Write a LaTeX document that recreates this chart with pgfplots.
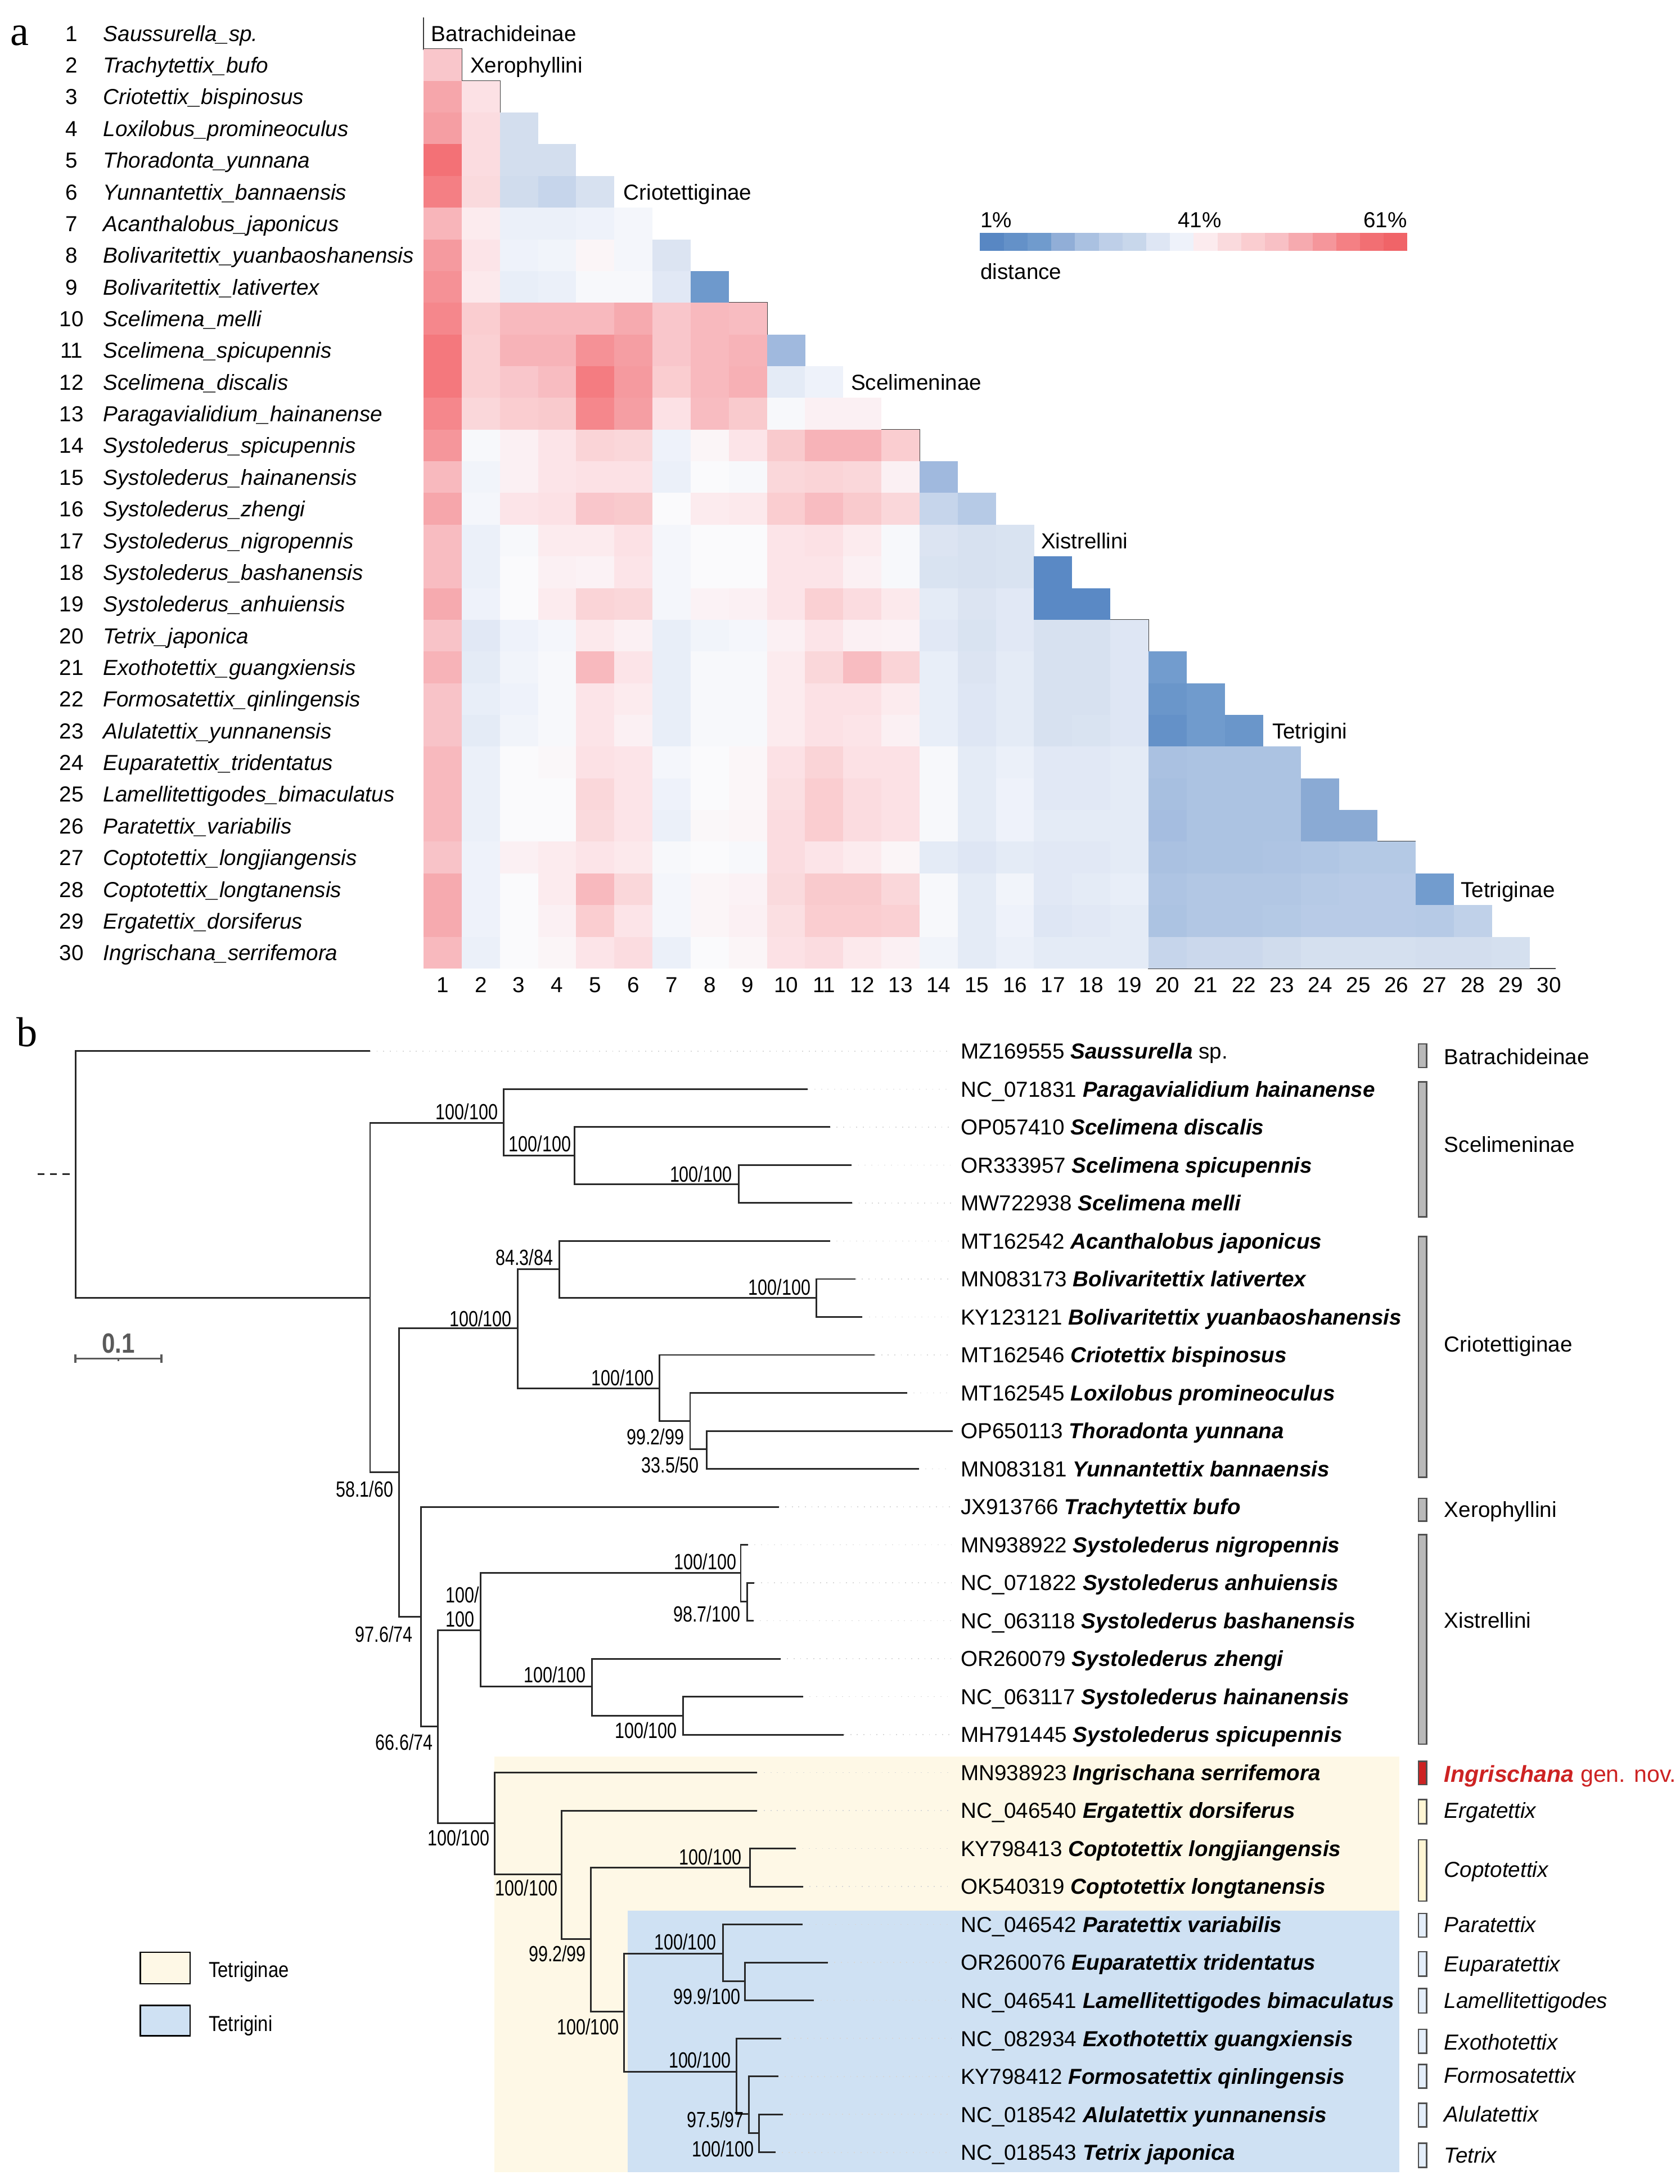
\documentclass[border=0pt]{standalone}
\usepackage{fontspec}
\setmainfont{Liberation Sans}
\newfontfamily\serifletter{Liberation Serif}
\usepackage{graphicx}
\usepackage{pgfplots}
\pgfplotsset{compat=1.18}

\definecolor{beige}{RGB}{254,248,230}
\definecolor{tblue}{RGB}{207,225,243}
\definecolor{linecol}{RGB}{40,40,40}
\definecolor{outl}{RGB}{60,60,60}
\definecolor{boxgray}{RGB}{185,185,185}
\definecolor{bardraw}{RGB}{80,80,80}
\definecolor{ingred}{RGB}{205,35,35}
\definecolor{yelbar}{RGB}{255,246,212}
\definecolor{bluebar}{RGB}{228,238,250}
\definecolor{leader}{RGB}{215,215,215}
\definecolor{scalegray}{RGB}{90,90,90}

\newcommand{\fs}{\fontsize{7.8}{9.4}\selectfont}
\newcommand{\bsf}{\fontsize{7.9}{9.4}\selectfont}
\newcommand{\nar}[1]{\scalebox{0.78}[1]{#1}}

% distance colour scale: blue (1%) - white (41%) - red (61%)
\pgfplotsset{colormap={dist}{rgb255(1cm)=(86,133,194) rgb255(2cm)=(90,137,197)
  rgb255(7.5cm)=(100,145,200) rgb255(10.5cm)=(112,155,205) rgb255(17cm)=(138,170,212)
  rgb255(22cm)=(160,185,222) rgb255(24.5cm)=(172,195,226) rgb255(27cm)=(182,202,230)
  rgb255(31cm)=(198,213,235) rgb255(33cm)=(208,220,237) rgb255(35cm)=(215,225,240)
  rgb255(37cm)=(225,232,245) rgb255(38cm)=(232,238,248) rgb255(39cm)=(238,242,250)
  rgb255(41cm)=(250,250,252) rgb255(42.5cm)=(252,235,238) rgb255(44cm)=(252,228,232)
  rgb255(46.5cm)=(250,215,218) rgb255(48cm)=(250,205,208) rgb255(49.5cm)=(248,195,200)
  rgb255(51cm)=(248,185,190) rgb255(53.5cm)=(246,170,175) rgb255(56cm)=(245,150,155)
  rgb255(57.5cm)=(245,135,140) rgb255(59.5cm)=(244,120,125) rgb255(61cm)=(240,100,104)}}

\tikzset{
  lab/.style={inner sep=0pt, text height=5.6pt, text depth=0pt, font=\fs},
  bsl/.style={inner sep=0pt, text height=5.7pt, text depth=0pt, font=\bsf, anchor=east},
}

\newcommand{\rowlab}[3]{\node[lab,anchor=center] at (axis cs:-8.726,#1) {#2};
  \node[lab,anchor=west] at (axis cs:-7.905,#1) {\textit{#3}};}
\newcommand{\tip}[3]{\node[lab,anchor=west] at (axis cs:1.0295,#1) {#2 \textbf{\textit{#3}}};}
\newcommand{\grp}[2]{\node[lab,anchor=west] at (axis cs:1.5922,#1) {#2};}
\newcommand{\boot}[3]{\node[bsl] at (axis cs:#1,#2) {\nar{#3}};}
\newcommand{\gbar}[3]{\addplot[fill=#3, draw=bardraw, line width=0.5pt] coordinates
  {(1.5629,#1) (1.5723,#1) (1.5723,#2) (1.5629,#2)} --cycle;}

\begin{document}
\begin{tikzpicture}
\useasboundingbox (0,0) rectangle (603pt,784pt);

% ---------------- panel a: distance heat map ----------------
\begin{axis}[
  at={(152.05pt,436.3pt)}, anchor=south west,
  scale only axis, width=410.9pt, height=341.4pt,
  xmin=0.5, xmax=30.5, ymin=0.5, ymax=30.5, y dir=reverse,
  axis x line*=bottom, axis y line=none,
  x axis line style={draw=none},
  xtick={1,...,30}, ytick=\empty, major tick length=0pt,
  /pgf/number format/assume math mode=true,
  xticklabel style={font=\fs, inner sep=0pt, yshift=-3pt},
  clip=false,
  colormap name=dist, point meta min=1, point meta max=61,
]
\addplot[scatter, only marks, mark=square*, mark size=5.6pt,
  mark options={xscale=1.203, line width=0.25pt},
  scatter/use mapped color={draw=mapped color, fill=mapped color},
  point meta=explicit]
  table[row sep=\\, x=x, y=y, meta=d] {
x y d\\
1 2 49\\
1 3 54\\ 2 3 44.5\\
1 4 55\\ 2 4 45.5\\ 3 4 34\\
1 5 60\\ 2 5 45.5\\ 3 5 34\\ 4 5 34\\
1 6 58.6\\ 2 6 46\\ 3 6 33\\ 4 6 31\\ 5 6 35\\
1 7 51.6\\ 2 7 42.5\\ 3 7 38.5\\ 4 7 38.5\\ 5 7 39\\ 6 7 40\\
1 8 55.5\\ 2 8 44\\ 3 8 39\\ 4 8 39.5\\ 5 8 41.5\\ 6 8 40\\ 7 8 36\\
1 9 56.5\\ 2 9 43\\ 3 9 38\\ 4 9 38.5\\ 5 9 40.5\\ 6 9 40.5\\ 7 9 37\\ 8 9 10\\
1 10 57.5\\ 2 10 48\\ 3 10 51\\ 4 10 51\\ 5 10 51\\ 6 10 53.5\\ 7 10 49\\ 8 10 51\\ 9 10 50.5\\
1 11 59.5\\ 2 11 47.5\\ 3 11 52\\ 4 11 52\\ 5 11 56.5\\ 6 11 55\\ 7 11 49\\ 8 11 51\\ 9 11 52\\ 10 11 22\\
1 12 59.5\\ 2 12 47.5\\ 3 12 49\\ 4 12 50.5\\ 5 12 59\\ 6 12 55.5\\ 7 12 48\\ 8 12 51\\ 9 12 52.5\\ 10 12 37.5\\ 11 12 39\\
1 13 57.5\\ 2 13 46.5\\ 3 13 48\\ 4 13 48.5\\ 5 13 57.5\\ 6 13 55\\ 7 13 44.5\\ 8 13 50.5\\ 9 13 48.5\\ 10 13 40.5\\ 11 13 42\\ 12 13 42\\
1 14 56\\ 2 14 40.5\\ 3 14 42\\ 4 14 44\\ 5 14 47\\ 6 14 46.5\\ 7 14 39\\ 8 14 41.5\\ 9 14 44\\ 10 14 48.5\\ 11 14 52\\ 12 14 52\\ 13 14 48\\
1 15 51\\ 2 15 39.5\\ 3 15 42\\ 4 15 44\\ 5 15 44.5\\ 6 15 44.5\\ 7 15 38.5\\ 8 15 41\\ 9 15 40.5\\ 10 15 46.5\\ 11 15 47\\ 12 15 46.5\\ 13 15 42\\ 14 15 22\\
1 16 54\\ 2 16 40\\ 3 16 44\\ 4 16 44.5\\ 5 16 49\\ 6 16 48.5\\ 7 16 41\\ 8 16 42.5\\ 9 16 43\\ 10 16 48\\ 11 16 50.5\\ 12 16 48.5\\ 13 16 46.5\\ 14 16 31\\ 15 16 27\\
1 17 50.5\\ 2 17 38.5\\ 3 17 40.5\\ 4 17 42.5\\ 5 17 42.5\\ 6 17 44.5\\ 7 17 40\\ 8 17 41\\ 9 17 41\\ 10 17 44\\ 11 17 44.5\\ 12 17 42.5\\ 13 17 40.5\\ 14 17 36\\ 15 17 35\\ 16 17 35.5\\
1 18 50.5\\ 2 18 38.5\\ 3 18 41\\ 4 18 42\\ 5 18 41.8\\ 6 18 44\\ 7 18 40\\ 8 18 41\\ 9 18 41\\ 10 18 44\\ 11 18 44\\ 12 18 42\\ 13 18 40.5\\ 14 18 35.5\\ 15 18 35\\ 16 18 35.5\\ 17 18 2\\
1 19 53.5\\ 2 19 39\\ 3 19 41\\ 4 19 42.5\\ 5 19 47\\ 6 19 46.5\\ 7 19 40\\ 8 19 41.8\\ 9 19 42\\ 10 19 44\\ 11 19 47.5\\ 12 19 45.5\\ 13 19 43\\ 14 19 37.5\\ 15 19 36\\ 16 19 37\\ 17 19 2\\ 18 19 2\\
1 20 49.5\\ 2 20 37\\ 3 20 39\\ 4 20 40\\ 5 20 43\\ 6 20 42\\ 7 20 38\\ 8 20 39.5\\ 9 20 40\\ 10 20 42\\ 11 20 44\\ 12 20 42\\ 13 20 41.8\\ 14 20 37\\ 15 20 35.5\\ 16 20 37\\ 17 20 35\\ 18 20 35\\ 19 20 36.5\\
1 21 52\\ 2 21 37.5\\ 3 21 39.5\\ 4 21 40.5\\ 5 21 51\\ 6 21 44\\ 7 21 38\\ 8 21 40.5\\ 9 21 40.5\\ 10 21 42.5\\ 11 21 46.5\\ 12 21 50.5\\ 13 21 47\\ 14 21 38\\ 15 21 36\\ 16 21 37.5\\ 17 21 35\\ 18 21 35\\ 19 21 36.5\\ 20 21 11\\
1 22 49.5\\ 2 22 38\\ 3 22 39\\ 4 22 40.5\\ 5 22 44\\ 6 22 42.5\\ 7 22 38\\ 8 22 40.5\\ 9 22 40.5\\ 10 22 42.5\\ 11 22 44.5\\ 12 22 44.5\\ 13 22 42.5\\ 14 22 38\\ 15 22 36.5\\ 16 22 37.5\\ 17 22 35\\ 18 22 35\\ 19 22 36.5\\ 20 22 9\\ 21 22 10.4\\
1 23 49.5\\ 2 23 37.5\\ 3 23 39.5\\ 4 23 40.5\\ 5 23 44\\ 6 23 42\\ 7 23 38\\ 8 23 40.5\\ 9 23 40.5\\ 10 23 42.5\\ 11 23 44.5\\ 12 23 44\\ 13 23 42\\ 14 23 38\\ 15 23 36.5\\ 16 23 37.5\\ 17 23 35\\ 18 23 35.5\\ 19 23 36.5\\ 20 23 7.5\\ 21 23 10.4\\ 22 23 9\\
1 24 51\\ 2 24 38.5\\ 3 24 41\\ 4 24 41.3\\ 5 24 44.5\\ 6 24 44\\ 7 24 40\\ 8 24 41\\ 9 24 41.4\\ 10 24 44.5\\ 11 24 47\\ 12 24 44.5\\ 13 24 44.5\\ 14 24 40.5\\ 15 24 37.5\\ 16 24 38.5\\ 17 24 37\\ 18 24 37\\ 19 24 37.5\\ 20 24 24\\ 21 24 24.5\\ 22 24 24.5\\ 23 24 24.5\\
1 25 51\\ 2 25 38.5\\ 3 25 41\\ 4 25 41\\ 5 25 46.5\\ 6 25 44\\ 7 25 39\\ 8 25 41\\ 9 25 41.4\\ 10 25 45\\ 11 25 48\\ 12 25 45.5\\ 13 25 44.5\\ 14 25 40.5\\ 15 25 37.5\\ 16 25 39\\ 17 25 37\\ 18 25 37\\ 19 25 37.5\\ 20 25 23.5\\ 21 25 24.5\\ 22 25 24.5\\ 23 25 24.5\\ 24 25 17\\
1 26 51\\ 2 26 38.5\\ 3 26 41\\ 4 26 41\\ 5 26 46\\ 6 26 44\\ 7 26 38.5\\ 8 26 41.3\\ 9 26 41.5\\ 10 26 45.5\\ 11 26 48\\ 12 26 45.5\\ 13 26 44.5\\ 14 26 40.5\\ 15 26 37.5\\ 16 26 39\\ 17 26 37.5\\ 18 26 37.5\\ 19 26 37.5\\ 20 26 23\\ 21 26 24.5\\ 22 26 24.5\\ 23 26 24.5\\ 24 26 17\\ 25 26 17\\
1 27 49.5\\ 2 27 39\\ 3 27 42\\ 4 27 42.5\\ 5 27 44\\ 6 27 43\\ 7 27 40.5\\ 8 27 41\\ 9 27 40.5\\ 10 27 45.5\\ 11 27 44\\ 12 27 42.5\\ 13 27 41.5\\ 14 27 37.5\\ 15 27 36.5\\ 16 27 37.5\\ 17 27 37\\ 18 27 37\\ 19 27 37.5\\ 20 27 24\\ 21 27 24.5\\ 22 27 24.5\\ 23 27 25\\ 24 27 25.5\\ 25 27 26.5\\ 26 27 26.5\\
1 28 53.5\\ 2 28 39\\ 3 28 41\\ 4 28 42.5\\ 5 28 51\\ 6 28 46.5\\ 7 28 40\\ 8 28 41.5\\ 9 28 41.8\\ 10 28 46\\ 11 28 48.5\\ 12 28 48.5\\ 13 28 46.5\\ 14 28 40.5\\ 15 28 37.5\\ 16 28 39.5\\ 17 28 37\\ 18 28 37.5\\ 19 28 38\\ 20 28 25\\ 21 28 26\\ 22 28 26\\ 23 28 26\\ 24 28 27\\ 25 28 27.5\\ 26 28 27.5\\ 27 28 11\\
1 29 53.5\\ 2 29 39\\ 3 29 41\\ 4 29 42\\ 5 29 48\\ 6 29 44\\ 7 29 40\\ 8 29 41.5\\ 9 29 42\\ 10 29 45\\ 11 29 48\\ 12 29 48\\ 13 29 47.5\\ 14 29 40.5\\ 15 29 37.5\\ 16 29 39\\ 17 29 36.5\\ 18 29 37\\ 19 29 37.5\\ 20 29 24.5\\ 21 29 26\\ 22 29 26\\ 23 29 26.5\\ 24 29 27.5\\ 25 29 27.5\\ 26 29 27.5\\ 27 29 27\\ 28 29 29.5\\
1 30 51\\ 2 30 38.5\\ 3 30 41\\ 4 30 41.5\\ 5 30 44\\ 6 30 45.5\\ 7 30 38.5\\ 8 30 41\\ 9 30 41.5\\ 10 30 44.5\\ 11 30 45.5\\ 12 30 43\\ 13 30 42\\ 14 30 39.5\\ 15 30 37.5\\ 16 30 38.5\\ 17 30 37.5\\ 18 30 37.5\\ 19 30 37.5\\ 20 30 31\\ 21 30 32\\ 22 30 32\\ 23 30 33\\ 24 30 34.5\\ 25 30 34.5\\ 26 30 34.5\\ 27 30 34\\ 28 30 34\\ 29 30 34.5\\
};
% group outlines
\addplot[outl, line width=0.5pt] coordinates {(0.5,0.5) (0.5,1.5) (1.5,1.5) (1.5,2.5) (2.5,2.5)
  (2.5,9.5) (9.5,9.5) (9.5,13.5) (13.5,13.5) (13.5,19.5) (19.5,19.5) (19.5,30.5) (30.18,30.5)};
\addplot[outl, line width=0.5pt] coordinates {(19.5,26.5) (26.5,26.5)};
% group names
\node[lab,anchor=west] at (axis cs:0.69,1) {Batrachideinae};
\node[lab,anchor=west] at (axis cs:1.71,2) {Xerophyllini};
\node[lab,anchor=west] at (axis cs:5.73,6) {Criotettiginae};
\node[lab,anchor=west] at (axis cs:11.69,12) {Scelimeninae};
\node[lab,anchor=west] at (axis cs:16.67,17) {Xistrellini};
\node[lab,anchor=west] at (axis cs:22.73,23) {Tetrigini};
\node[lab,anchor=west] at (axis cs:27.67,28) {Tetriginae};
% row labels
\rowlab{1}{1}{Saussurella\_sp.}
\rowlab{2}{2}{Trachytettix\_bufo}
\rowlab{3}{3}{Criotettix\_bispinosus}
\rowlab{4}{4}{Loxilobus\_promineoculus}
\rowlab{5}{5}{Thoradonta\_yunnana}
\rowlab{6}{6}{Yunnantettix\_bannaensis}
\rowlab{7}{7}{Acanthalobus\_japonicus}
\rowlab{8}{8}{Bolivaritettix\_yuanbaoshanensis}
\rowlab{9}{9}{Bolivaritettix\_lativertex}
\rowlab{10}{10}{Scelimena\_melli}
\rowlab{11}{11}{Scelimena\_spicupennis}
\rowlab{12}{12}{Scelimena\_discalis}
\rowlab{13}{13}{Paragavialidium\_hainanense}
\rowlab{14}{14}{Systolederus\_spicupennis}
\rowlab{15}{15}{Systolederus\_hainanensis}
\rowlab{16}{16}{Systolederus\_zhengi}
\rowlab{17}{17}{Systolederus\_nigropennis}
\rowlab{18}{18}{Systolederus\_bashanensis}
\rowlab{19}{19}{Systolederus\_anhuiensis}
\rowlab{20}{20}{Tetrix\_japonica}
\rowlab{21}{21}{Exothotettix\_guangxiensis}
\rowlab{22}{22}{Formosatettix\_qinlingensis}
\rowlab{23}{23}{Alulatettix\_yunnanensis}
\rowlab{24}{24}{Euparatettix\_tridentatus}
\rowlab{25}{25}{Lamellitettigodes\_bimaculatus}
\rowlab{26}{26}{Paratettix\_variabilis}
\rowlab{27}{27}{Coptotettix\_longjiangensis}
\rowlab{28}{28}{Coptotettix\_longtanensis}
\rowlab{29}{29}{Ergatettix\_dorsiferus}
\rowlab{30}{30}{Ingrischana\_serrifemora}
\node[inner sep=0pt, font=\serifletter\fontsize{15}{15}\selectfont] at (axis cs:-10.09,1.07) {a};
\end{axis}

% ---------------- colour key ----------------
\begin{axis}[
  at={(351.8pt,694pt)}, anchor=south west,
  scale only axis, width=153.45pt, height=6.45pt,
  xmin=0.5, xmax=18.5, ymin=0.5, ymax=1.5,
  hide axis, clip=false,
  colormap name=dist, point meta min=1, point meta max=61,
]
\addplot[scatter, only marks, mark=square*, mark size=3.15pt,
  mark options={xscale=1.321, line width=0.2pt},
  scatter/use mapped color={draw=mapped color, fill=mapped color},
  point meta=explicit]
  table[row sep=\\, meta=d] {
x y d\\
1 1 1.5\\ 2 1 7.5\\ 3 1 10.5\\ 4 1 18.5\\ 5 1 24\\ 6 1 29\\ 7 1 31.5\\ 8 1 36.5\\ 9 1 39\\
10 1 42.5\\ 11 1 46\\ 12 1 48\\ 13 1 50\\ 14 1 53.5\\ 15 1 56\\ 16 1 58.5\\ 17 1 60.2\\ 18 1 61\\
};
\node[lab, anchor=base west, yshift=1.8pt] at (axis cs:0.5,1.5) {1\%};
\node[lab, anchor=base, yshift=1.8pt] at (axis cs:9.75,1.5) {41\%};
\node[lab, anchor=base east, yshift=1.8pt] at (axis cs:18.5,1.5) {61\%};
\node[lab, anchor=north west, yshift=-4.5pt] at (axis cs:0.5,0.5) {distance};
\end{axis}

% ---------------- panel b: phylogeny ----------------
\begin{axis}[
  at={(0pt,0pt)}, anchor=south west,
  scale only axis, width=603pt, height=420.28pt,
  xmin=-0.08785, xmax=1.8668, ymin=0, ymax=30.835, y dir=reverse,
  hide axis, clip=false,
]
% shaded clades
\addplot[fill=beige, draw=none] coordinates {(0.4877,19.58) (1.5402,19.58) (1.5402,30.53) (0.4877,30.53)} --cycle;
\addplot[fill=tblue, draw=none] coordinates {(0.6428,23.64) (1.5402,23.64) (1.5402,30.53) (0.6428,30.53)} --cycle;
% dotted leaders from tips to labels
\addplot[leader, line width=0.35pt, dotted, unbounded coords=jump] table[row sep=\\] {
x y\\
0.3428 1\\ 1.019 1\\ nan nan\\ 0.8523 2\\ 1.019 2\\ nan nan\\ 0.878 3\\ 1.019 3\\ nan nan\\
0.9031 4\\ 1.019 4\\ nan nan\\ 0.9036 5\\ 1.019 5\\ nan nan\\ 0.878 6\\ 1.019 6\\ nan nan\\
0.9075 7\\ 1.019 7\\ nan nan\\ 0.9156 8\\ 1.019 8\\ nan nan\\ 0.93 9\\ 1.019 9\\ nan nan\\
0.9676 10\\ 1.019 10\\ nan nan\\ 0.9814 12\\ 1.019 12\\ nan nan\\ 0.8183 13\\ 1.019 13\\ nan nan\\
0.7825 14\\ 1.019 14\\ nan nan\\ 0.7901 15\\ 1.019 15\\ nan nan\\ 0.789 16\\ 1.019 16\\ nan nan\\
0.8203 17\\ 1.019 17\\ nan nan\\ 0.8465 18\\ 1.019 18\\ nan nan\\ 0.894 19\\ 1.019 19\\ nan nan\\
0.7934 20\\ 1.019 20\\ nan nan\\ 0.7934 21\\ 1.019 21\\ nan nan\\ 0.8383 22\\ 1.019 22\\ nan nan\\
0.8465 23\\ 1.019 23\\ nan nan\\ 0.8459 24\\ 1.019 24\\ nan nan\\ 0.8754 25\\ 1.019 25\\ nan nan\\
0.8593 26\\ 1.019 26\\ nan nan\\ 0.8209 27\\ 1.019 27\\ nan nan\\ 0.8177 28\\ 1.019 28\\ nan nan\\
0.8235 29\\ 1.019 29\\ nan nan\\ 0.8144 30\\ 1.019 30\\
};
% tree branches (one elbow per internal node)
\addplot[linecol, line width=0.6pt, unbounded coords=jump] table[row sep=\\] {
x y\\
0.3428 1\\ 0 1\\ 0 7.49\\ 0.3428 7.49\\ nan nan\\
0.4985 2.886\\ 0.3428 2.886\\ 0.3428 12.086\\ 0.3768 12.086\\ nan nan\\
0.8523 2\\ 0.4985 2\\ 0.4985 3.755\\ 0.5806 3.755\\ nan nan\\
0.878 3\\ 0.5806 3\\ 0.5806 4.51\\ 0.7716 4.51\\ nan nan\\
0.9031 4\\ 0.7716 4\\ 0.7716 5\\ 0.9036 5\\ nan nan\\
0.5146 8.30\\ 0.3768 8.30\\ 0.3768 15.9\\ 0.4018 15.9\\ nan nan\\
0.5632 6.745\\ 0.5146 6.745\\ 0.5146 9.877\\ 0.6793 9.877\\ nan nan\\
0.878 6\\ 0.5632 6\\ 0.5632 7.493\\ 0.8619 7.493\\ nan nan\\
0.9075 7\\ 0.8619 7\\ 0.8619 8\\ 0.9156 8\\ nan nan\\
0.93 9\\ 0.6793 9\\ 0.6793 10.736\\ 0.7152 10.736\\ nan nan\\
0.9676 10\\ 0.7152 10\\ 0.7152 11.477\\ 0.7344 11.477\\ nan nan\\
1.0207 11\\ 0.7344 11\\ 0.7344 12\\ 0.9814 12\\ nan nan\\
0.8183 13\\ 0.4018 13\\ 0.4018 18.78\\ 0.4217 18.78\\ nan nan\\
0.4716 16.246\\ 0.4217 16.246\\ 0.4217 21.33\\ 0.4877 21.33\\ nan nan\\
0.7741 14.738\\ 0.4716 14.738\\ 0.4716 17.73\\ 0.6011 17.73\\ nan nan\\
0.7825 14\\ 0.7741 14\\ 0.7741 15.5\\ 0.7819 15.5\\ nan nan\\
0.7901 15\\ 0.7819 15\\ 0.7819 16\\ 0.789 16\\ nan nan\\
0.8203 17\\ 0.6011 17\\ 0.6011 18.5\\ 0.7068 18.5\\ nan nan\\
0.8465 18\\ 0.7068 18\\ 0.7068 19\\ 0.894 19\\ nan nan\\
0.7934 20\\ 0.4877 20\\ 0.4877 22.68\\ 0.5658 22.68\\ nan nan\\
0.7934 21\\ 0.5658 21\\ 0.5658 24.38\\ 0.5998 24.38\\ nan nan\\
0.7851 22.5\\ 0.5998 22.5\\ 0.5998 26.3\\ 0.6382 26.3\\ nan nan\\
0.8383 22\\ 0.7851 22\\ 0.7851 23\\ 0.8465 23\\ nan nan\\
0.7536 24.77\\ 0.6382 24.77\\ 0.6382 27.88\\ 0.769 27.88\\ nan nan\\
0.8459 24\\ 0.7536 24\\ 0.7536 25.49\\ 0.7793 25.49\\ nan nan\\
0.8754 25\\ 0.7793 25\\ 0.7793 26\\ 0.8593 26\\ nan nan\\
0.8209 27\\ 0.769 27\\ 0.769 28.99\\ 0.7838 28.99\\ nan nan\\
0.8177 28\\ 0.7838 28\\ 0.7838 29.5\\ 0.7953 29.5\\ nan nan\\
0.8235 29\\ 0.7953 29\\ 0.7953 30\\ 0.8144 30\\
};
\addplot[linecol, line width=0.6pt, dash pattern=on 2.5pt off 2pt] coordinates {(-0.0442,4.243) (0,4.243)};
% scale bar
\addplot[scalegray, line width=0.7pt, unbounded coords=jump] table[row sep=\\] {
x y\\ 0 8.99\\ 0 9.21\\ nan nan\\ 0 9.1\\ 0.1 9.1\\ nan nan\\ 0.1 8.99\\ 0.1 9.21\\ nan nan\\ 0.05 9.1\\ 0.05 9.17\\
};
\node[inner sep=0pt, text=scalegray, font=\bfseries\fontsize{10}{10}\selectfont] at (axis cs:0.05,8.69) {\scalebox{0.85}[1]{0.1}};
% support values
\boot{0.4922}{2.592}{100/100}
\boot{0.5773}{3.432}{100/100}
\boot{0.7645}{4.235}{100/100}
\boot{0.5562}{6.433}{84.3/84}
\boot{0.8561}{7.218}{100/100}
\boot{0.5081}{8.043}{100/100}
\boot{0.6735}{9.591}{100/100}
\boot{0.7088}{11.147}{99.2/99}
\boot{0.7261}{11.895}{33.5/50}
\boot{0.3704}{12.537}{58.1/60}
\boot{0.7697}{14.44}{100/100}
\node[bsl, anchor=west] at (axis cs:0.43,15.31) {\nar{100/}};
\node[bsl, anchor=west] at (axis cs:0.43,15.96) {\nar{100}};
\boot{0.7741}{15.82}{98.7/100}
\boot{0.3929}{16.36}{97.6/74}
\boot{0.5947}{17.42}{100/100}
\boot{0.7005}{18.88}{100/100}
\boot{0.4165}{19.2}{66.6/74}
\boot{0.4825}{21.71}{100/100}
\boot{0.5614}{23.04}{100/100}
\boot{0.7754}{22.22}{100/100}
\boot{0.5947}{24.76}{99.2/99}
\boot{0.7465}{24.45}{100/100}
\boot{0.7741}{25.9}{99.9/100}
\boot{0.6331}{26.7}{100/100}
\boot{0.7632}{27.56}{100/100}
\boot{0.7786}{29.13}{97.5/97}
\boot{0.7901}{29.9}{100/100}
% tip labels
\node[lab,anchor=west] at (axis cs:1.0295,1) {MZ169555 \textbf{\textit{Saussurella}} sp.};
\tip{2}{NC\_071831}{Paragavialidium hainanense}
\tip{3}{OP057410}{Scelimena discalis}
\tip{4}{OR333957}{Scelimena spicupennis}
\tip{5}{MW722938}{Scelimena melli}
\tip{6}{MT162542}{Acanthalobus japonicus}
\tip{7}{MN083173}{Bolivaritettix lativertex}
\tip{8}{KY123121}{Bolivaritettix yuanbaoshanensis}
\tip{9}{MT162546}{Criotettix bispinosus}
\tip{10}{MT162545}{Loxilobus promineoculus}
\tip{11}{OP650113}{Thoradonta yunnana}
\tip{12}{MN083181}{Yunnantettix bannaensis}
\tip{13}{JX913766}{Trachytettix bufo}
\tip{14}{MN938922}{Systolederus nigropennis}
\tip{15}{NC\_071822}{Systolederus anhuiensis}
\tip{16}{NC\_063118}{Systolederus bashanensis}
\tip{17}{OR260079}{Systolederus zhengi}
\tip{18}{NC\_063117}{Systolederus hainanensis}
\tip{19}{MH791445}{Systolederus spicupennis}
\tip{20}{MN938923}{Ingrischana serrifemora}
\tip{21}{NC\_046540}{Ergatettix dorsiferus}
\tip{22}{KY798413}{Coptotettix longjiangensis}
\tip{23}{OK540319}{Coptotettix longtanensis}
\tip{24}{NC\_046542}{Paratettix variabilis}
\tip{25}{OR260076}{Euparatettix tridentatus}
\tip{26}{NC\_046541}{Lamellitettigodes bimaculatus}
\tip{27}{NC\_082934}{Exothotettix guangxiensis}
\tip{28}{KY798412}{Formosatettix qinlingensis}
\tip{29}{NC\_018542}{Alulatettix yunnanensis}
\tip{30}{NC\_018543}{Tetrix japonica}
% taxon bars
\gbar{0.81}{1.43}{boxgray}
\gbar{1.81}{5.36}{boxgray}
\gbar{5.88}{12.22}{boxgray}
\gbar{12.78}{13.38}{boxgray}
\gbar{13.73}{19.25}{boxgray}
\gbar{19.70}{20.32}{ingred}
\gbar{20.71}{21.35}{yelbar}
\gbar{21.77}{23.38}{yelbar}
\gbar{23.71}{24.33}{bluebar}
\gbar{24.72}{25.36}{bluebar}
\gbar{25.69}{26.33}{bluebar}
\gbar{26.76}{27.39}{bluebar}
\gbar{27.69}{28.31}{bluebar}
\gbar{28.71}{29.33}{bluebar}
\gbar{29.76}{30.40}{bluebar}
\grp{1.14}{Batrachideinae}
\grp{3.46}{Scelimeninae}
\grp{8.71}{Criotettiginae}
\grp{13.07}{Xerophyllini}
\grp{15.98}{Xistrellini}
\node[inner sep=0pt, text height=5.9pt, text depth=0pt, anchor=west, text=ingred, font=\fontsize{8.3}{10}\selectfont] at (axis cs:1.5922,20.03) {\textbf{\textit{Ingrischana}} gen. nov.};
\grp{21.0}{\textit{Ergatettix}}
\grp{22.55}{\textit{Coptotettix}}
\grp{24.0}{\textit{Paratettix}}
\grp{25.03}{\textit{Euparatettix}}
\grp{26.0}{\textit{Lamellitettigodes}}
\grp{27.1}{\textit{Exothotettix}}
\grp{27.97}{\textit{Formosatettix}}
\grp{28.99}{\textit{Alulatettix}}
\grp{30.07}{\textit{Tetrix}}
% legend
\addplot[fill=beige, draw=black, line width=0.5pt] coordinates {(0.0755,24.73) (0.1332,24.73) (0.1332,25.56) (0.0755,25.56)} --cycle;
\addplot[fill=tblue, draw=black, line width=0.5pt] coordinates {(0.0755,26.13) (0.1332,26.13) (0.1332,26.93) (0.0755,26.93)} --cycle;
\node[lab,anchor=west] at (axis cs:0.1545,25.19) {\scalebox{0.85}[1]{Tetriginae}};
\node[lab,anchor=west] at (axis cs:0.1545,26.61) {\scalebox{0.85}[1]{Tetrigini}};
\node[inner sep=0pt, font=\serifletter\fontsize{15}{15}\selectfont] at (axis cs:-0.0564,0.497) {b};
\end{axis}
\end{tikzpicture}
\end{document}
